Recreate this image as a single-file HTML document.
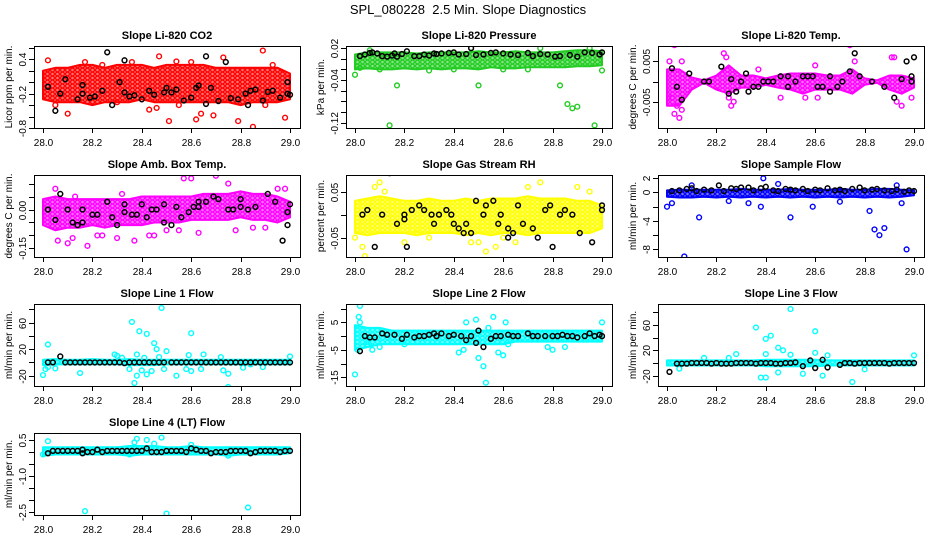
<!DOCTYPE html>
<html><head><meta charset="utf-8"><style>
html,body{margin:0;padding:0;background:#fff;}
svg{display:block;font-family:"Liberation Sans",sans-serif;}
</style></head><body>
<svg id="chart" width="936" height="540" viewBox="0 0 936 540" xmlns="http://www.w3.org/2000/svg">
<defs id="defs"></defs>
<rect width="936" height="540" fill="#fff"/>
<text x="468" y="14" text-anchor="middle" font-size="13" style="white-space:pre">SPL_080228  2.5 Min. Slope Diagnostics</text>
</svg>
<script>
const bandX=[28.0,28.05,28.1,28.15,28.2,28.25,28.3,28.35,28.4,28.45,28.5,28.55,28.6,28.65,28.7,28.75,28.8,28.85,28.9,28.95,29.0];
const xTicks=[28.0,28.2,28.4,28.6,28.8,29.0];
const xTickLabels=["28.0","28.2","28.4","28.6","28.8","29.0"];

// Panel 1 CO2
const p1Lo=[-0.3,-0.35,-0.35,-0.35,-0.4,-0.35,-0.35,-0.35,-0.3,-0.35,-0.35,-0.35,-0.35,-0.35,-0.35,-0.35,-0.4,-0.35,-0.35,-0.35,-0.3];
const p1Hi=[0.2,0.25,0.25,0.3,0.3,0.25,0.3,0.3,0.3,0.25,0.3,0.3,0.3,0.3,0.25,0.25,0.25,0.25,0.25,0.25,0.15];
const p1OutX=[28.02,28.10,28.24,28.36,28.43,28.44,28.46,28.47,28.51,28.54,28.55,28.62,28.64,28.69,28.73,28.79,28.85,28.89,28.90,28.98,28.05,28.30,28.60,28.93,28.17];
const p1OutY=[0.38,-0.55,0.3,0.35,-0.48,-0.9,-0.45,0.45,-0.68,0.36,-0.4,-0.65,-0.55,-0.58,0.43,-0.68,-0.78,0.55,-0.4,-0.62,-0.4,-0.35,0.35,0.3,0.35];
const p1BlkX=[28.02,28.05,28.07,28.09,28.14,28.16,28.16,28.19,28.21,28.24,28.26,28.28,28.31,28.33,28.33,28.35,28.37,28.40,28.43,28.45,28.49,28.50,28.52,28.54,28.57,28.60,28.62,28.63,28.66,28.66,28.68,28.71,28.74,28.76,28.79,28.82,28.83,28.84,28.86,28.89,28.91,28.93,28.96,28.99,28.99,29.0];
const p1BlkY=[-0.08,-0.5,-0.2,0.05,-0.3,-0.05,-0.2,-0.27,-0.25,-0.15,0.52,-0.4,0.0,0.38,-0.18,-0.25,-0.23,-0.3,-0.15,-0.22,-0.18,-0.1,-0.18,-0.13,-0.32,-0.27,-0.1,-0.06,0.45,-0.38,-0.1,-0.33,0.35,-0.28,-0.3,-0.2,-0.4,-0.15,-0.13,-0.32,-0.17,-0.15,-0.27,0.0,-0.2,-0.22];

// Panel 2 Pressure
const p2Lo=[-0.02,-0.018,-0.02,-0.02,-0.018,-0.02,-0.018,-0.02,-0.018,-0.018,-0.02,-0.016,-0.018,-0.018,-0.016,-0.016,-0.016,-0.016,-0.014,-0.014,-0.012];
const p2Hi=[0.008,0.012,0.012,0.012,0.012,0.01,0.012,0.012,0.012,0.012,0.014,0.012,0.012,0.014,0.012,0.012,0.012,0.014,0.016,0.016,0.014];
const p2OutX=[28.0,28.14,28.17,28.5,28.83,28.86,28.88,28.90,28.97,29.0,28.02,28.1,28.3,28.6,28.7,28.75,28.95,28.06,28.4];
const p2OutY=[-0.03,-0.125,-0.05,-0.05,-0.05,-0.085,-0.093,-0.09,-0.125,-0.022,-0.017,-0.02,-0.022,-0.02,-0.02,0.02,0.02,0.016,-0.02];
const p2BlkX=[28.02,28.04,28.06,28.07,28.09,28.11,28.13,28.15,28.16,28.17,28.19,28.21,28.24,28.26,28.28,28.3,28.32,28.33,28.35,28.38,28.4,28.42,28.45,28.47,28.49,28.52,28.55,28.57,28.6,28.63,28.66,28.7,28.72,28.75,28.78,28.81,28.83,28.87,28.9,28.93,28.96,28.99,29.0];
const p2BlkY=[0.005,0.008,0.011,0.012,0.01,0.005,0.004,0.006,0.01,0.004,0.009,0.014,0.005,0.005,0.008,0.006,0.01,0.009,0.01,0.011,0.012,0.008,0.009,0.02,0.007,0.008,0.011,0.012,0.01,0.008,0.007,0.011,0.005,0.009,0.008,0.004,0.005,0.007,0.004,0.012,0.011,0.008,0.012];

// Panel 3 Li-820 Temp
const p3Lo=[-0.006,-0.006,-0.002,-0.0003,-0.002,-0.003,-0.0015,-0.0015,-0.0008,-0.0015,-0.002,-0.003,-0.002,-0.002,-0.002,-0.003,-0.0008,-0.0003,-0.002,-0.003,-0.0015];
const p3Hi=[0.003,0.003,0.001,0.0003,0.0015,0.004,0.0015,0.0015,0.0008,0.0015,0.002,0.002,0.002,0.0015,0.0015,0.003,0.0008,0.0003,0.0015,0.0015,0.0008];
const p3OutX=[28.01,28.02,28.03,28.03,28.04,28.05,28.06,28.06,28.23,28.24,28.25,28.26,28.27,28.46,28.56,28.61,28.74,28.76,28.91,28.92,28.95,28.99,28.93,28.37,28.6];
const p3OutY=[0.005,-0.004,0.009,-0.008,-0.006,-0.009,0.005,-0.007,0.007,0.006,-0.004,-0.006,-0.005,-0.004,-0.004,-0.004,0.009,0.005,0.006,0.006,-0.006,-0.004,-0.005,0.003,0.004];
const p3BlkX=[28.02,28.04,28.06,28.09,28.15,28.17,28.22,28.25,28.26,28.28,28.3,28.32,28.33,28.35,28.37,28.39,28.41,28.43,28.46,28.49,28.49,28.52,28.55,28.57,28.59,28.61,28.63,28.66,28.66,28.69,28.71,28.74,28.76,28.78,28.83,28.88,28.92,28.95,28.97,28.99,28.99,29.0];
const p3BlkY=[0.0033,-0.0013,-0.0045,0.002,0,0,0.0037,-0.003,0.0006,-0.0025,0,0.002,-0.0025,-0.0013,-0.0013,0,0,0,0.0013,0.0013,-0.0013,0,0.0013,0.0013,0.0013,-0.0013,-0.0013,0.0013,-0.0025,-0.0013,0,0.0025,0.007,0.0013,0,-0.0013,-0.004,0.0006,0.005,0.0013,0,0.006];

// Panel 4 Amb Box Temp
const p4Lo=[-0.06,-0.08,-0.07,-0.07,-0.06,-0.07,-0.06,-0.06,-0.06,-0.05,-0.05,-0.05,-0.04,-0.04,-0.04,-0.04,-0.03,-0.04,-0.04,-0.05,-0.03];
const p4Hi=[0.04,0.05,0.04,0.04,0.04,0.04,0.04,0.04,0.05,0.05,0.05,0.05,0.05,0.06,0.06,0.06,0.07,0.06,0.06,0.05,0.03];
const p4OutX=[28.05,28.06,28.08,28.1,28.12,28.13,28.18,28.22,28.24,28.3,28.32,28.37,28.43,28.45,28.5,28.55,28.57,28.6,28.63,28.7,28.75,28.78,28.85,28.9,28.95,28.98];
const p4OutY=[0.08,-0.12,-0.2,-0.13,-0.11,0.05,-0.14,-0.1,-0.1,-0.11,0.06,-0.12,-0.1,-0.1,-0.08,-0.08,0.12,0.12,-0.09,0.13,0.1,-0.08,-0.07,-0.07,0.08,0.08];
const p4BlkX=[28.02,28.05,28.07,28.1,28.12,28.14,28.16,28.16,28.2,28.22,28.26,28.28,28.3,28.33,28.33,28.36,28.38,28.4,28.42,28.44,28.46,28.49,28.49,28.52,28.54,28.56,28.59,28.61,28.63,28.63,28.66,28.69,28.71,28.75,28.77,28.8,28.8,28.83,28.86,28.91,28.94,28.97,28.99,28.99,29.0];
const p4BlkY=[0.0,-0.04,0.06,0.0,-0.05,-0.06,-0.05,0.0,-0.02,-0.02,0.03,-0.03,-0.06,0.02,-0.01,-0.02,-0.02,0.02,-0.03,0.0,0.0,-0.05,0.02,-0.06,0.01,-0.03,-0.01,0.01,0.03,0.01,0.03,0.05,0.04,0.0,0.0,0.04,0.01,0.0,0.01,0.06,0.03,-0.12,-0.01,-0.06,0.02];

// Panel 5 Gas Stream RH
const p5Lo=[-0.04,-0.045,-0.04,-0.04,-0.04,-0.045,-0.04,-0.04,-0.04,-0.045,-0.04,-0.045,-0.04,-0.04,-0.045,-0.04,-0.04,-0.04,-0.04,-0.04,-0.03];
const p5Hi=[0.03,0.035,0.04,0.035,0.03,0.03,0.035,0.03,0.03,0.035,0.03,0.035,0.035,0.035,0.04,0.035,0.035,0.035,0.03,0.03,0.02];
const p5OutX=[28.0,28.03,28.04,28.08,28.1,28.12,28.25,28.3,28.47,28.5,28.6,28.65,28.7,28.75,28.9,28.95,28.53,28.57,28.2];
const p5OutY=[-0.05,-0.07,-0.09,0.06,0.07,0.05,-0.04,-0.05,-0.06,-0.06,-0.05,-0.06,0.06,0.07,0.06,0.05,-0.08,-0.07,-0.06];
const p5BlkX=[28.03,28.05,28.08,28.11,28.14,28.17,28.2,28.2,28.21,28.23,28.26,28.28,28.31,28.32,28.34,28.37,28.39,28.4,28.42,28.44,28.45,28.47,28.49,28.52,28.53,28.56,28.58,28.59,28.62,28.62,28.64,28.66,28.68,28.72,28.74,28.77,28.79,28.8,28.83,28.85,28.88,28.91,28.96,29.0,29.0];
const p5BlkY=[0.0,0.01,-0.07,0.0,0.09,-0.02,0.0,-0.01,-0.07,0.01,0.02,0.01,0.0,-0.02,0.0,0.01,0.0,-0.02,-0.03,-0.04,-0.02,-0.04,0.03,0.0,0.02,0.03,-0.02,0.0,-0.03,-0.05,-0.04,0.02,-0.02,-0.03,-0.05,0.01,0.02,-0.07,0.0,0.01,0.0,-0.04,-0.06,0.02,0.01];

// Panel 6 Sample Flow
const p6Lo=[-0.6,-0.7,-0.7,-0.6,-0.7,-0.6,-0.7,-0.6,-0.7,-0.6,-0.7,-0.6,-0.7,-0.6,-0.7,-0.6,-0.7,-0.6,-0.7,-0.6,-0.4];
const p6Hi=[0.3,0.4,0.4,0.4,0.4,0.4,0.5,0.4,0.4,0.4,0.5,0.4,0.4,0.4,0.5,0.4,0.4,0.5,0.5,0.4,0.3];
const p6OutX=[28.0,28.02,28.1,28.13,28.07,28.33,28.38,28.39,28.45,28.5,28.59,28.82,28.84,28.86,28.88,28.93,28.97,28.95,28.25,28.7];
const p6OutY=[-2,-1.5,1,-3.5,-9,-1.5,-2,2,1.2,-3.5,-2,-2.6,-5.2,-6,-5,1,-8,-1.5,-1.2,-1.3];
const p6BlkX=[28.02,28.05,28.08,28.1,28.12,28.15,28.18,28.21,28.23,28.26,28.28,28.3,28.33,28.35,28.38,28.4,28.43,28.45,28.48,28.5,28.52,28.55,28.57,28.6,28.62,28.65,28.68,28.7,28.72,28.75,28.78,28.8,28.83,28.85,28.88,28.91,28.93,28.96,28.98,29.0];
const p6BlkY=[0.2,0.3,0.5,0.6,0.2,0.4,0.3,1.0,0.2,0.6,0.5,0.7,0.7,0.3,0.6,0.8,0.3,0.2,0.5,0.4,0.3,0.5,0.2,0.4,0.3,0.6,0.3,0.4,0.2,0.5,0.7,0.3,0.4,0.5,0.3,0.2,0.4,0.1,0.3,0.2];

// Panel 7 Line 1 Flow
const p7Lo=[-4,-3,-3,-3,-3,-3,-3,-4,-4,-4,-3,-3,-3,-3,-3,-3,-3,-3,-3,-3,-3];
const p7Hi=[4,5,4,4,5,4,4,5,4,4,4,4,4,4,4,4,4,4,4,4,4];
const p7OutX=[28.0,28.01,28.02,28.02,28.05,28.15,28.3,28.32,28.35,28.36,28.37,28.38,28.38,28.39,28.4,28.41,28.42,28.42,28.44,28.45,28.46,28.47,28.48,28.49,28.5,28.54,28.58,28.59,28.6,28.6,28.64,28.65,28.72,28.73,28.75,28.75,28.81,28.84,28.89,29.0,28.29];
const p7OutY=[-19,-10,-7,27,-9,-16,10,7,-10,61,-31,-20,12,47,-12,7,-18,43,-13,29,20,8,82,-10,17,-20,-10,11,-13,44,-10,12,8,-12,-37,-17,-8,-3,-7,9,12];
const p7BlkX=[28.02,28.04,28.07,28.09,28.11,28.13,28.15,28.17,28.19,28.21,28.23,28.25,28.27,28.29,28.31,28.33,28.35,28.37,28.39,28.41,28.43,28.45,28.47,28.49,28.52,28.54,28.56,28.58,28.6,28.62,28.64,28.66,28.68,28.7,28.72,28.74,28.76,28.78,28.8,28.82,28.84,28.86,28.88,28.9,28.92,28.94,28.96,28.98,29.0];
const p7BlkY=[0,0,9,0,0,0,0,0,0,0,0,0,0,0,0,-1,0,0,0,0,0,0,0,0,0,0,0,0,0,0,0,0,0,0,0,0,0,0,0,0,0,0,0,0,0,0,0,0,0];

// Panel 8 Line 2 Flow
const p8Lo=[-5,-4,-3,-3,-3,-3,-3,-3,-3,-3,-3,-3,-3,-2,-2,-2,-2,-2,-2,-2,-2];
const p8Hi=[4,3,3,2,2,2,2,2,2,2,2,2,2,2,2,2,2,2,2,2,2];
const p8OutX=[28.0,28.01,28.02,28.015,28.02,28.05,28.07,28.1,28.2,28.42,28.44,28.45,28.49,28.5,28.52,28.53,28.54,28.56,28.58,28.6,28.61,28.62,28.78,28.8,28.85,29.0];
const p8OutY=[-14,-5,11,7,5,-3,-5,-4,-3,-6,-5,5,6,-8,-11,-17,3,7,-6,-7,5,-3,-4,-5,-4,5];
const p8BlkX=[28.02,28.04,28.06,28.08,28.11,28.13,28.16,28.19,28.21,28.24,28.26,28.28,28.3,28.32,28.33,28.35,28.38,28.4,28.43,28.45,28.47,28.49,28.5,28.52,28.55,28.57,28.59,28.62,28.64,28.66,28.7,28.72,28.74,28.77,28.8,28.82,28.84,28.86,28.88,28.9,28.93,28.95,28.97,28.99,29.0];
const p8BlkY=[-5.5,0,-0.5,-0.5,1,0.5,0.5,-1,0.5,-0.5,0,0,0.5,1,0,1,0,0.5,0,-1.5,0,-2.5,2,-4,-1,0,0,0.5,0,0,1,0,0,0,0,0,0.5,0,0,-0.5,0,1,0,0.5,0];

// Panel 9 Line 3 Flow
const p9Lo=[-4,-4,-4,-4,-4,-4,-4,-4,-5,-5,-5,-5,-5,-4,-4,-4,-4,-4,-4,-4,-4];
const p9Hi=[4,4,4,4,4,4,4,4,5,5,5,5,5,4,4,4,4,4,4,4,4];
const p9OutX=[28.36,28.38,28.4,28.4,28.42,28.45,28.47,28.5,28.5,28.55,28.6,28.6,28.63,28.65,28.75,28.4,28.28,28.8,29.0,28.05,28.45,28.15,28.25];
const p9OutY=[56,-23,-23,38,43,24,20,85,13,-17,50,16,-20,12,-30,14,14,-10,12,-9,-15,8,8];
const p9BlkX=[28.01,28.04,28.06,28.08,28.1,28.12,28.14,28.16,28.18,28.2,28.22,28.24,28.26,28.28,28.3,28.32,28.34,28.36,28.38,28.4,28.42,28.44,28.46,28.48,28.5,28.52,28.55,28.58,28.6,28.63,28.65,28.7,28.72,28.74,28.76,28.78,28.8,28.82,28.84,28.86,28.88,28.9,28.92,28.94,28.96,28.98,29.0];
const p9BlkY=[-14,-1,-1,-1,0,0,0,0,-1,0,-1,-1,-1,0,0,0,0,-1,0,0,0,-1,-1,0,0,1,-5,4,-8,5,-7,-3,0,0,-1,0,0,0,0,0,0,-1,0,0,0,0,0];

// Panel 10 Line 4 (LT) Flow
const p10Lo=[-0.15,-0.1,-0.1,-0.1,-0.1,-0.1,-0.1,-0.15,-0.1,-0.1,-0.1,-0.1,-0.1,-0.1,-0.1,-0.15,-0.1,-0.1,-0.1,-0.1,-0.05];
const p10Hi=[0.2,0.2,0.2,0.2,0.2,0.2,0.2,0.25,0.25,0.25,0.2,0.2,0.25,0.2,0.2,0.2,0.2,0.2,0.2,0.2,0.2];
const p10OutX=[28.0,28.02,28.17,28.37,28.38,28.42,28.48,28.5,28.45,28.83,28.35,28.75,28.6];
const p10OutY=[-0.1,0.45,-2.45,0.4,0.55,0.5,0.6,-2.55,0.35,-2.3,-0.1,-0.15,0.3];
const p10BlkX=[28.02,28.04,28.06,28.08,28.1,28.12,28.14,28.16,28.16,28.18,28.2,28.22,28.24,28.26,28.28,28.3,28.32,28.34,28.36,28.38,28.4,28.42,28.44,28.46,28.48,28.5,28.52,28.54,28.56,28.58,28.6,28.62,28.64,28.66,28.68,28.7,28.72,28.74,28.76,28.78,28.8,28.82,28.84,28.86,28.88,28.9,28.92,28.94,28.96,28.98,29.0];
const p10BlkY=[-0.05,0.05,0.05,0.05,0.05,0.05,0.05,0.1,-0.05,0,0,0.1,0,0.05,0.05,0.05,0.05,0.05,0.05,0.05,0.05,0.15,0,0,0,0.05,0.05,0.05,0.05,0,0.15,0.1,0.05,0.05,-0.05,0,0,0,0.05,0.05,0.05,0.05,-0.05,0,0.05,0.05,0.05,0.05,0,0.05,0.05];

const panels=[
 {name:"co2",title:"Slope Li-820 CO2",yl:"Licor ppm per min.",col:0,row:0,ymin:-0.8,ymax:0.63,color:"#ff0000",ticks:[-0.8,-0.6,-0.4,-0.2,0,0.2,0.4,0.6],labels:{"0.4":"0.4","-0.2":"-0.2","-0.8":"-0.8"},lo:p1Lo,hi:p1Hi,ox:p1OutX,oy:p1OutY,bx:p1BlkX,by:p1BlkY},
 {name:"pressure",title:"Slope Li-820 Pressure",yl:"kPa per min.",col:1,row:0,ymin:-0.13,ymax:0.024,color:"#22cc22",ticks:[-0.12,-0.1,-0.08,-0.06,-0.04,-0.02,0,0.02],labels:{"0.02":"0.02","-0.04":"-0.04","-0.12":"-0.12"},lo:p2Lo,hi:p2Hi,ox:p2OutX,oy:p2OutY,bx:p2BlkX,by:p2BlkY},
 {name:"li820-temp",title:"Slope Li-820 Temp.",yl:"degrees C per min.",col:2,row:0,ymin:-0.0115,ymax:0.0088,color:"#ff00ff",ticks:[-0.005,0,0.005],labels:{"0.005":"0.005","-0.005":"-0.005"},lo:p3Lo,hi:p3Hi,ox:p3OutX,oy:p3OutY,bx:p3BlkX,by:p3BlkY},
 {name:"amb-box-temp",title:"Slope Amb. Box Temp.",yl:"degrees C per min.",col:0,row:1,ymin:-0.183,ymax:0.133,color:"#ff00ff",ticks:[-0.15,-0.1,-0.05,0,0.05,0.1],labels:{"0":"0.00","-0.15":"-0.15"},lo:p4Lo,hi:p4Hi,ox:p4OutX,oy:p4OutY,bx:p4BlkX,by:p4BlkY},
 {name:"gas-stream-rh",title:"Slope Gas Stream RH",yl:"percent per min.",col:1,row:1,ymin:-0.092,ymax:0.086,color:"#ffff00",ticks:[-0.05,0,0.05],labels:{"0.05":"0.05","-0.05":"-0.05"},lo:p5Lo,hi:p5Hi,ox:p5OutX,oy:p5OutY,bx:p5BlkX,by:p5BlkY},
 {name:"sample-flow",title:"Slope Sample Flow",yl:"ml/min per min.",col:2,row:1,ymin:-9.07,ymax:2.46,color:"#0000ff",ticks:[-8,-6,-4,-2,0,2],labels:{"2":"2","0":"0","-4":"-4","-8":"-8"},lo:p6Lo,hi:p6Hi,ox:p6OutX,oy:p6OutY,bx:p6BlkX,by:p6BlkY},
 {name:"line1-flow",title:"Slope Line 1 Flow",yl:"ml/min per min.",col:0,row:2,ymin:-35.5,ymax:88,color:"#00ffff",ticks:[-20,0,20,40,60,80],labels:{"60":"60","20":"20","-20":"-20"},lo:p7Lo,hi:p7Hi,ox:p7OutX,oy:p7OutY,bx:p7BlkX,by:p7BlkY},
 {name:"line2-flow",title:"Slope Line 2 Flow",yl:"ml/min per min.",col:1,row:2,ymin:-18.2,ymax:11.7,color:"#00ffff",ticks:[-15,-10,-5,0,5,10],labels:{"5":"5","-5":"-5","-15":"-15"},lo:p8Lo,hi:p8Hi,ox:p8OutX,oy:p8OutY,bx:p8BlkX,by:p8BlkY},
 {name:"line3-flow",title:"Slope Line 3 Flow",yl:"ml/min per min.",col:2,row:2,ymin:-36.3,ymax:93,color:"#00ffff",ticks:[-20,0,20,40,60,80],labels:{"60":"60","20":"20","-20":"-20"},lo:p9Lo,hi:p9Hi,ox:p9OutX,oy:p9OutY,bx:p9BlkX,by:p9BlkY},
 {name:"line4-flow",title:"Slope Line 4 (LT) Flow",yl:"ml/min per min.",col:0,row:3,ymin:-2.61,ymax:0.79,color:"#00ffff",ticks:[-2.5,-2,-1.5,-1,-0.5,0,0.5],labels:{"0.5":"0.5","-1":"-1.0","-2.5":"-2.5"},lo:p10Lo,hi:p10Hi,ox:p10OutX,oy:p10OutY,bx:p10BlkX,by:p10BlkY}
];

const NS="http://www.w3.org/2000/svg";
const svg=document.getElementById('chart');
const defs=document.getElementById('defs');
const colLeft=[34,346,658], rowTop=[46,175,304,433], W=266, H=82;
function mk(tag,attrs,parent){const e=document.createElementNS(NS,tag);for(const k in attrs)e.setAttribute(k,attrs[k]);parent.appendChild(e);return e;}

panels.forEach(p=>{
  const L=colLeft[p.col], T=rowTop[p.row];
  const xs=v=>L+9+(v-28)*247;
  const ys=v=>T+(p.ymax-v)/(p.ymax-p.ymin)*H;
  // texture pattern of overlapping open circles
  const pat=mk('pattern',{id:'pat-'+p.name,width:5,height:4,patternUnits:'userSpaceOnUse'},defs);
  mk('rect',{width:5,height:4,fill:p.color,'fill-opacity':0.55},pat);
  mk('circle',{cx:2.5,cy:2,r:1.9,fill:'none',stroke:p.color,'stroke-width':1.3},pat);
  const g=mk('g',{},svg);
  
  
  const clip=mk('clipPath',{id:'clip-'+p.name},g);
  mk('rect',{x:L,y:T,width:W,height:H},clip);
  const plot=mk('g',{'clip-path':'url(#clip-'+p.name+')'},g);
  let pts=[];
  for(let i=0;i<bandX.length;i++)pts.push(xs(bandX[i]).toFixed(1)+','+ys(p.hi[i]).toFixed(1));
  for(let i=bandX.length-1;i>=0;i--)pts.push(xs(bandX[i]).toFixed(1)+','+ys(p.lo[i]).toFixed(1));
  const band=mk('polygon',{points:pts.join(' '),fill:'url(#pat-'+p.name+')',stroke:p.color,'stroke-width':2,'stroke-linejoin':'round'},plot);
  
  
  for(let i=0;i<Math.min(p.ox.length,p.oy.length);i++){
    const c=mk('circle',{cx:xs(p.ox[i]),cy:ys(p.oy[i]),r:2.4,fill:'none',stroke:p.color,'stroke-width':1.4},plot);
    
    
  }
  for(let i=0;i<Math.min(p.bx.length,p.by.length);i++){
    const c=mk('circle',{cx:xs(p.bx[i]),cy:ys(p.by[i]),r:2.4,fill:'none',stroke:'#000','stroke-width':1.5},plot);
    
    
  }
  mk('rect',{x:L+0.5,y:T+0.5,width:W,height:H,fill:'none',stroke:'#000','stroke-width':1},g);
  const t=mk('text',{x:L+W/2,y:T-7,'text-anchor':'middle','font-size':11,'font-weight':'bold'},g);
  t.textContent=p.title;
  
  
  xTicks.forEach((v,i)=>{
    const x=Math.round(xs(v))+0.5;
    mk('line',{x1:x,y1:T+H,x2:x,y2:T+H+5,stroke:'#000'},g);
    const tl=mk('text',{x:x,y:T+H+18,'text-anchor':'middle','font-size':10},g);
    tl.textContent=xTickLabels[i];
    
    
  });
  p.ticks.forEach(v=>{
    const y=Math.round(ys(v))+0.5;
    mk('line',{x1:L-5,y1:y,x2:L,y2:y,stroke:'#000'},g);
    const key=String(v);
    if(p.labels[key]!==undefined){
      const tl=mk('text',{x:0,y:0,'text-anchor':'middle','font-size':10,transform:'translate('+(L-8)+','+y+') rotate(-90)'},g);
      tl.textContent=p.labels[key];
      
      
    }
  });
  const yl=mk('text',{x:0,y:0,'text-anchor':'middle','font-size':10,transform:'translate('+(L-22)+','+(T+H/2)+') rotate(-90)'},g);
  yl.textContent=p.yl;
  
  
});
</script>
</body></html>
